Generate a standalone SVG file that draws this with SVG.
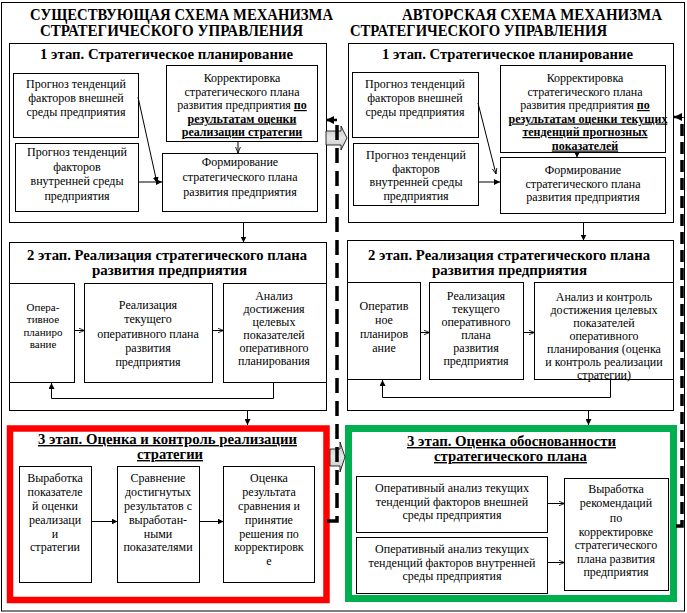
<svg xmlns="http://www.w3.org/2000/svg" width="687" height="613" viewBox="0 0 687 613">
<style>
text { font-family: "Liberation Serif", "Times New Roman", serif; fill: #000; }
.t { font-size: 12px; text-anchor: middle; }
.s { font-size: 11px; }
.ti { font-size: 16px; font-weight: bold; }
.h { font-size: 14px; font-weight: bold; }
.u { font-weight: bold; text-decoration: underline; }
.b { fill: #fff; stroke: #000; stroke-width: 1; }
.ln { fill: none; stroke: #000; stroke-width: 1; }
.dash { fill: none; stroke: #000; stroke-width: 3.5; }
.gray { fill: url(#gg); stroke: #000; stroke-width: 0.8; }
</style>
<defs>
<linearGradient id="gg" x1="0" y1="0" x2="0" y2="1">
<stop offset="0" stop-color="#c4c4c4"/>
<stop offset="0.5" stop-color="#e6e6e6"/>
<stop offset="1" stop-color="#c4c4c4"/>
</linearGradient>
<marker id="ah" viewBox="0 0 10 10" refX="10" refY="5" markerWidth="6" markerHeight="6" orient="auto" markerUnits="userSpaceOnUse"><path d="M0,0 L10,5 L0,10 z" fill="#000"/></marker>
<marker id="ao" viewBox="0 0 10 10" refX="10" refY="5" markerWidth="6" markerHeight="6" orient="auto" markerUnits="userSpaceOnUse"><path d="M0,1 L10,5 L0,9" fill="none" stroke="#000" stroke-width="1.4"/></marker>
<marker id="ad" viewBox="0 0 10 10" refX="10" refY="5" markerWidth="8" markerHeight="8" orient="auto" markerUnits="userSpaceOnUse"><path d="M0,0 L10,5 L0,10 z" fill="#000"/></marker>
</defs>

<rect x="1.5" y="2.5" width="683" height="608.5" fill="none" stroke="#000" stroke-width="1"/>

<g id="titles">
<text class="ti" x="30" y="20" textLength="303" lengthAdjust="spacingAndGlyphs">СУЩЕСТВУЮЩАЯ СХЕМА МЕХАНИЗМА</text>
<text class="ti" x="40" y="36" textLength="263" lengthAdjust="spacingAndGlyphs">СТРАТЕГИЧЕСКОГО УПРАВЛЕНИЯ</text>
<text class="ti" x="402" y="20" textLength="260" lengthAdjust="spacingAndGlyphs">АВТОРСКАЯ СХЕМА МЕХАНИЗМА</text>
<text class="ti" x="350" y="36" textLength="257" lengthAdjust="spacingAndGlyphs">СТРАТЕГИЧЕСКОГО УПРАВЛЕНИЯ</text>
</g>

<!-- LEFT STAGE 1 -->
<g id="L-stage1">
<rect class="b" x="9.5" y="43.5" width="317" height="179"/>
<text class="h" x="40" y="59" textLength="253" lengthAdjust="spacingAndGlyphs">1 этап. Стратегическое планирование</text>
</g>
<g id="L1-a">
<rect class="b" x="13.5" y="73.5" width="125" height="64"/>
<text class="t" x="76" y="88">Прогноз тенденций</text>
<text class="t" x="76" y="102">факторов внешней</text>
<text class="t" x="76" y="116">среды предприятия</text>
</g>
<g id="L1-b">
<rect class="b" x="15.5" y="143.5" width="123" height="68"/>
<text class="t" x="77" y="156">Прогноз тенденций</text>
<text class="t" x="77" y="170.5">факторов</text>
<text class="t" x="77" y="185">внутренней среды</text>
<text class="t" x="77" y="199.5">предприятия</text>
</g>
<g id="L1-c">
<rect class="b" x="166.5" y="65.5" width="151" height="76"/>
<text class="t" x="242" y="82">Корректировка</text>
<text class="t" x="242" y="95.5">стратегического плана</text>
<text class="t" x="242" y="109">развития предприятия <tspan class="u">по</tspan></text>
<text class="t u" x="242" y="122.5">результатам оценки</text>
<text class="t u" x="242" y="136">реализации стратегии</text>
</g>
<g id="L1-d">
<rect class="b" x="162.5" y="153.5" width="155" height="58"/>
<text class="t" x="240" y="166">Формирование</text>
<text class="t" x="240" y="181">стратегического плана</text>
<text class="t" x="240" y="196">развития предприятия</text>
</g>

<!-- RIGHT STAGE 1 -->
<g id="R-stage1">
<rect class="b" x="348.5" y="43.5" width="325" height="179"/>
<text class="h" x="382" y="59" textLength="251" lengthAdjust="spacingAndGlyphs">1 этап. Стратегическое планирование</text>
</g>
<g id="R1-a">
<rect class="b" x="352.5" y="72.5" width="126" height="65"/>
<text class="t" x="415" y="88">Прогноз тенденций</text>
<text class="t" x="415" y="102">факторов внешней</text>
<text class="t" x="415" y="116">среды предприятия</text>
</g>
<g id="R1-b">
<rect class="b" x="353.5" y="143.5" width="125" height="62"/>
<text class="t" x="416" y="159">Прогноз тенденций</text>
<text class="t" x="416" y="172.5">факторов</text>
<text class="t" x="416" y="186">внутренней среды</text>
<text class="t" x="416" y="199.5">предприятия</text>
</g>
<g id="R1-c">
<rect class="b" x="500.5" y="65.5" width="165" height="87"/>
<text class="t" x="585" y="82">Корректировка</text>
<text class="t" x="585" y="95.5">стратегического плана</text>
<text class="t" x="585" y="109">развития предприятия <tspan class="u">по</tspan></text>
<text class="t u" x="588" y="122.5">результатам оценки текущих</text>
<text class="t u" x="585" y="136">тенденций прогнозных</text>
<text class="t u" x="585" y="149.5">показателей</text>
</g>
<g id="R1-d">
<rect class="b" x="500.5" y="157.5" width="165" height="56"/>
<text class="t" x="583" y="174">Формирование</text>
<text class="t" x="583" y="187.5">стратегического плана</text>
<text class="t" x="583" y="201">развития предприятия</text>
</g>

<!-- LEFT STAGE 2 -->
<g id="L-stage2">
<rect class="b" x="9.5" y="242.5" width="317" height="168"/>
<text class="h" x="27" y="260" textLength="280" lengthAdjust="spacingAndGlyphs">2 этап. Реализация стратегического плана</text>
<text class="h" x="92" y="275" textLength="155" lengthAdjust="spacingAndGlyphs">развития предприятия</text>
</g>
<g id="L2-a">
<rect class="b" x="9.5" y="283.5" width="65" height="99"/>
<text class="t s" x="43" y="310.5">Опера-</text>
<text class="t s" x="43" y="323">тивное</text>
<text class="t s" x="43" y="335.5">планиро</text>
<text class="t s" x="43" y="348">вание</text>
</g>
<g id="L2-b">
<rect class="b" x="84.5" y="283.5" width="128" height="99"/>
<text class="t" x="148" y="309">Реализация</text>
<text class="t" x="148" y="323">текущего</text>
<text class="t" x="148" y="337.5">оперативного плана</text>
<text class="t" x="148" y="352">развития</text>
<text class="t" x="148" y="366">предприятия</text>
</g>
<g id="L2-c">
<rect class="b" x="223.5" y="283.5" width="103" height="99"/>
<text class="t" x="274" y="299.5">Анализ</text>
<text class="t" x="274" y="312.5">достижения</text>
<text class="t" x="274" y="325.5">целевых</text>
<text class="t" x="274" y="338.5">показателей</text>
<text class="t" x="274" y="351.5">оперативного</text>
<text class="t" x="274" y="365">планирования</text>
</g>

<!-- RIGHT STAGE 2 -->
<g id="R-stage2">
<rect class="b" x="347.5" y="240.5" width="326" height="170"/>
<text class="h" x="368" y="260" textLength="282" lengthAdjust="spacingAndGlyphs">2 этап. Реализация стратегического плана</text>
<text class="h" x="432" y="275" textLength="155" lengthAdjust="spacingAndGlyphs">развития предприятия</text>
</g>
<g id="R2-a">
<rect class="b" x="347.5" y="282.5" width="73" height="97"/>
<text class="t" x="384" y="310">Оператив</text>
<text class="t" x="384" y="324">ное</text>
<text class="t" x="384" y="338">планиров</text>
<text class="t" x="384" y="352">ание</text>
</g>
<g id="R2-b">
<rect class="b" x="429.5" y="282.5" width="94" height="97"/>
<text class="t" x="476" y="300">Реализация</text>
<text class="t" x="476" y="313">текущего</text>
<text class="t" x="476" y="326">оперативного</text>
<text class="t" x="476" y="339">плана</text>
<text class="t" x="476" y="352">развития</text>
<text class="t" x="476" y="365">предприятия</text>
</g>
<g id="R2-c">
<rect class="b" x="534.5" y="282.5" width="139" height="97"/>
<text class="t" x="604" y="300.5">Анализ и контроль</text>
<text class="t" x="604" y="313.5">достижения целевых</text>
<text class="t" x="604" y="326.5">показателей</text>
<text class="t" x="604" y="339.5">оперативного</text>
<text class="t" x="604" y="353">планирования (оценка</text>
<text class="t" x="604" y="366">и контроль реализации</text>
<text class="t" x="604" y="379">стратегии)</text>
</g>

<!-- LEFT STAGE 3 -->
<g id="L-stage3">
<rect x="10" y="428.5" width="316.5" height="171.5" fill="#fff" stroke="#ff0000" stroke-width="6.5"/>
<text class="h u" x="38" y="444" textLength="259" lengthAdjust="spacingAndGlyphs">3 этап. Оценка и контроль реализации</text>
<text class="h u" x="137" y="459" textLength="66" lengthAdjust="spacingAndGlyphs">стратегии</text>
</g>
<g id="L3-a">
<rect class="b" x="19.5" y="466.5" width="72" height="116"/>
<text class="t" x="55" y="482">Выработка</text>
<text class="t" x="55" y="496">показателе</text>
<text class="t" x="55" y="510">й оценки</text>
<text class="t" x="55" y="524">реализаци</text>
<text class="t" x="55" y="537.5">и</text>
<text class="t" x="55" y="551">стратегии</text>
</g>
<g id="L3-b">
<rect class="b" x="117.5" y="466.5" width="82" height="116"/>
<text class="t" x="158" y="482">Сравнение</text>
<text class="t" x="158" y="496">достигнутых</text>
<text class="t" x="158" y="510">результатов с</text>
<text class="t" x="158" y="524">выработан-</text>
<text class="t" x="158" y="537.5">ными</text>
<text class="t" x="158" y="551">показателями</text>
</g>
<g id="L3-c">
<rect class="b" x="223.5" y="466.5" width="91" height="116"/>
<text class="t" x="269" y="482">Оценка</text>
<text class="t" x="269" y="496">результата</text>
<text class="t" x="269" y="510">сравнения и</text>
<text class="t" x="269" y="524">принятие</text>
<text class="t" x="269" y="537.5">решения по</text>
<text class="t" x="269" y="551">корректировк</text>
<text class="t" x="269" y="565">е</text>
</g>

<!-- RIGHT STAGE 3 -->
<g id="R-stage3">
<rect x="348.5" y="428.5" width="325" height="170" fill="#fff" stroke="#00b050" stroke-width="7"/>
<text class="h u" x="407" y="446" textLength="209" lengthAdjust="spacingAndGlyphs">3 этап. Оценка обоснованности</text>
<text class="h u" x="434" y="461" textLength="153" lengthAdjust="spacingAndGlyphs">стратегического плана</text>
</g>
<g id="R3-a">
<rect class="b" x="356.5" y="476.5" width="191" height="56"/>
<text class="t" x="452" y="492">Оперативный анализ текущих</text>
<text class="t" x="452" y="505.5">тенденций факторов внешней</text>
<text class="t" x="452" y="519">среды предприятия</text>
</g>
<g id="R3-b">
<rect class="b" x="356.5" y="537.5" width="191" height="56"/>
<text class="t" x="452" y="553">Оперативный анализ текущих</text>
<text class="t" x="452" y="566.5">тенденций факторов внутренней</text>
<text class="t" x="452" y="580">среды предприятия</text>
</g>
<g id="R3-c">
<rect class="b" x="564.5" y="478.5" width="104" height="112"/>
<text class="t" x="616" y="493">Выработка</text>
<text class="t" x="616" y="507">рекомендаций</text>
<text class="t" x="616" y="521.5">по</text>
<text class="t" x="616" y="535.5">корректировке</text>
<text class="t" x="616" y="549">стратегического</text>
<text class="t" x="616" y="562.5">плана развития</text>
<text class="t" x="616" y="576">предприятия</text>
</g>

<g id="connectors">
<!-- gray block arrows -->
<path class="gray" d="M326,131 H341 V126 L347,138 L341,150 V145 H326 Z"/>
<path class="gray" d="M330,449 H340 V442 L345,457 L340,472 V466 H330 Z"/>
<!-- left stage 1 -->
<line class="ln" x1="138" y1="97" x2="157" y2="183" marker-end="url(#ah)"/>
<line class="ln" x1="138.5" y1="182" x2="162" y2="182" marker-end="url(#ah)"/>
<line class="ln" x1="238" y1="141.5" x2="238" y2="153" marker-end="url(#ao)"/>
<!-- right stage 1 -->
<line class="ln" x1="478" y1="103" x2="496" y2="174" marker-end="url(#ao)"/>
<line class="ln" x1="478.5" y1="182" x2="500" y2="182" marker-end="url(#ah)"/>
<line class="ln" x1="577" y1="152" x2="577" y2="157.5" marker-end="url(#ah)"/>
<!-- stage 1 to stage 2 -->
<line class="ln" x1="243.5" y1="222.5" x2="243.5" y2="242.5" marker-end="url(#ah)"/>
<line class="ln" x1="583.5" y1="222.5" x2="583.5" y2="240.5" marker-end="url(#ah)"/>
<!-- left stage 2 -->
<line class="ln" x1="74.5" y1="330.5" x2="84.5" y2="330.5" marker-end="url(#ao)"/>
<line class="ln" x1="212.5" y1="330.5" x2="223.5" y2="330.5" marker-end="url(#ao)"/>
<path class="ln" d="M273.5,382.5 V398.5 H51.5 V383" marker-end="url(#ah)"/>
<!-- right stage 2 -->
<line class="ln" x1="420.5" y1="332.5" x2="429.5" y2="332.5" marker-end="url(#ao)"/>
<line class="ln" x1="523.5" y1="332.5" x2="534.5" y2="332.5" marker-end="url(#ao)"/>
<path class="ln" d="M610.5,379.5 V397.5 H382.5 V380" marker-end="url(#ah)"/>
<!-- stage 2 to stage 3 -->
<line class="ln" x1="247.5" y1="410.5" x2="247.5" y2="425" marker-end="url(#ah)"/>
<line class="ln" x1="588.5" y1="410.5" x2="588.5" y2="425" marker-end="url(#ah)"/>
<!-- left stage 3 -->
<line class="ln" x1="91.5" y1="521.5" x2="117.5" y2="521.5" marker-end="url(#ah)"/>
<line class="ln" x1="199.5" y1="521.5" x2="223.5" y2="521.5" marker-end="url(#ah)"/>
<!-- right stage 3 -->
<line class="ln" x1="547.5" y1="503.5" x2="564.5" y2="503.5" marker-end="url(#ao)"/>
<line class="ln" x1="547.5" y1="562.5" x2="564.5" y2="562.5" marker-end="url(#ao)"/>
<!-- dashed feedback loops -->
<path class="dash" d="M327,521 H337 V120 H334" stroke-dasharray="15 8"/>
<line x1="337" y1="120" x2="326" y2="120" stroke="#000" stroke-width="2.5" marker-end="url(#ad)"/>
<path class="dash" d="M676,526 H682 V117" stroke-dasharray="12 6"/>
<line x1="682" y1="117" x2="674" y2="117" stroke="#000" stroke-width="2.5" marker-end="url(#ad)"/>
</g>
</svg>
